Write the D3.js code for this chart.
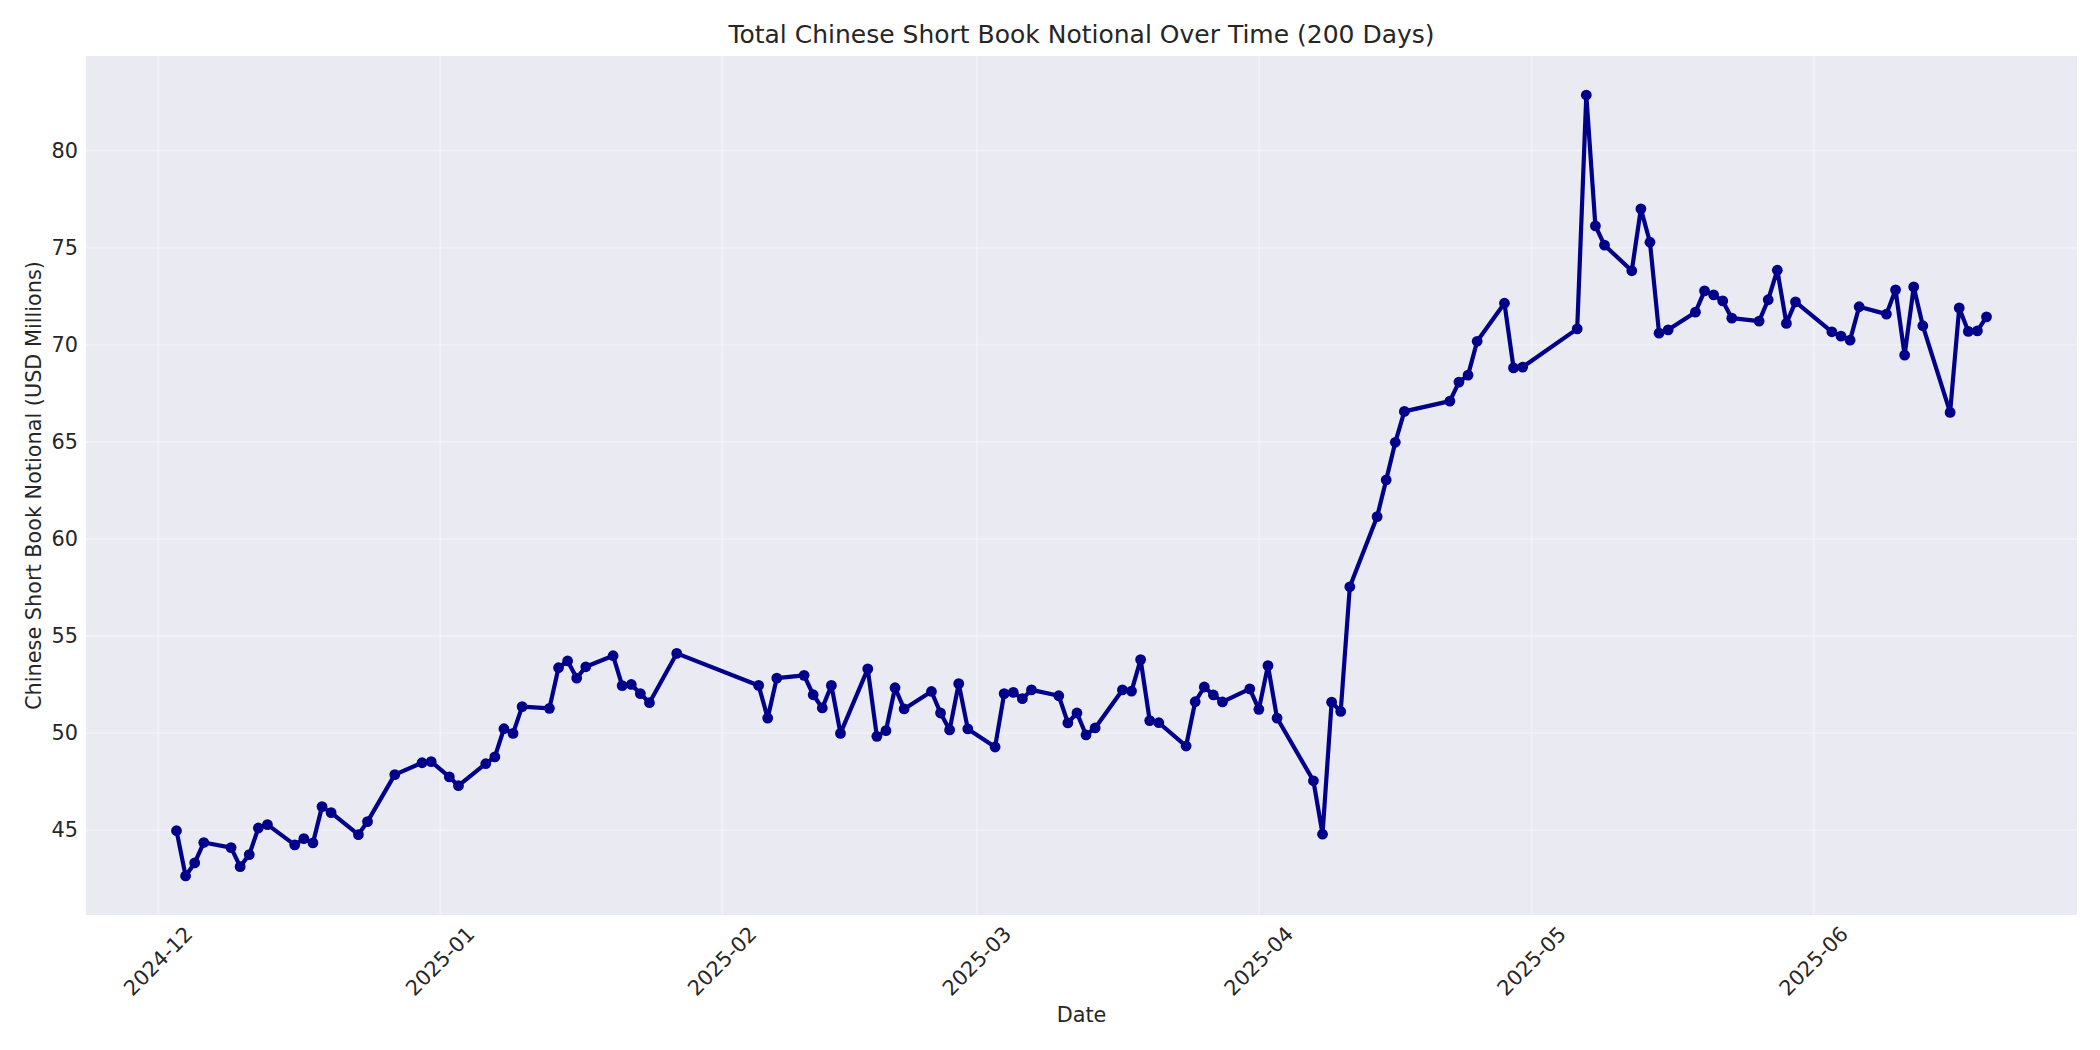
<!DOCTYPE html>
<html>
<head>
<meta charset="utf-8">
<script src="https://cdn.jsdelivr.net/npm/d3@7"></script>
<style>
  body { margin: 0; background: #fff; }
  svg { display: block; font-family: "DejaVu Sans", sans-serif; }
</style>
</head>
<body>
<svg width="2100" height="1050"></svg>
<script>
const dates = [
  "2024-12-03", "2024-12-04", "2024-12-05", "2024-12-06", "2024-12-09", "2024-12-10",
  "2024-12-11", "2024-12-12", "2024-12-13", "2024-12-16", "2024-12-17", "2024-12-18",
  "2024-12-19", "2024-12-20", "2024-12-23", "2024-12-24", "2024-12-27", "2024-12-30",
  "2024-12-31", "2025-01-02", "2025-01-03", "2025-01-06", "2025-01-07", "2025-01-08",
  "2025-01-09", "2025-01-10", "2025-01-13", "2025-01-14", "2025-01-15", "2025-01-16",
  "2025-01-17", "2025-01-20", "2025-01-21", "2025-01-22", "2025-01-23", "2025-01-24",
  "2025-01-27", "2025-02-05", "2025-02-06", "2025-02-07", "2025-02-10", "2025-02-11",
  "2025-02-12", "2025-02-13", "2025-02-14", "2025-02-17", "2025-02-18", "2025-02-19",
  "2025-02-20", "2025-02-21", "2025-02-24", "2025-02-25", "2025-02-26", "2025-02-27",
  "2025-02-28", "2025-03-03", "2025-03-04", "2025-03-05", "2025-03-06", "2025-03-07",
  "2025-03-10", "2025-03-11", "2025-03-12", "2025-03-13", "2025-03-14", "2025-03-17",
  "2025-03-18", "2025-03-19", "2025-03-20", "2025-03-21", "2025-03-24", "2025-03-25",
  "2025-03-26", "2025-03-27", "2025-03-28", "2025-03-31", "2025-04-01", "2025-04-02",
  "2025-04-03", "2025-04-07", "2025-04-08", "2025-04-09", "2025-04-10", "2025-04-11",
  "2025-04-14", "2025-04-15", "2025-04-16", "2025-04-17", "2025-04-22", "2025-04-23",
  "2025-04-24", "2025-04-25", "2025-04-28", "2025-04-29", "2025-04-30", "2025-05-06",
  "2025-05-07", "2025-05-08", "2025-05-09", "2025-05-12", "2025-05-13", "2025-05-14",
  "2025-05-15", "2025-05-16", "2025-05-19", "2025-05-20", "2025-05-21", "2025-05-22",
  "2025-05-23", "2025-05-26", "2025-05-27", "2025-05-28", "2025-05-29", "2025-05-30",
  "2025-06-03", "2025-06-04", "2025-06-05", "2025-06-06", "2025-06-09", "2025-06-10",
  "2025-06-11", "2025-06-12", "2025-06-13", "2025-06-16", "2025-06-17", "2025-06-18",
  "2025-06-19", "2025-06-20"
];

// USD millions
const notional = [
  44.98, 42.65, 43.32, 44.37, 44.11, 43.13,
  43.75, 45.12, 45.29, 44.25, 44.57, 44.35,
  46.22, 45.91, 44.78, 45.45, 47.87, 48.48,
  48.54, 47.75, 47.30, 48.43, 48.78, 50.23,
  49.99, 51.37, 51.28, 53.37, 53.72, 52.84,
  53.42, 53.99, 52.45, 52.51, 52.04, 51.57,
  54.11, 52.46, 50.78, 52.84, 52.98, 51.98,
  51.30, 52.46, 49.99, 53.31, 49.84, 50.13,
  52.34, 51.25, 52.15, 51.04, 50.17, 52.55,
  50.22, 49.29, 52.04, 52.10, 51.78, 52.23,
  51.93, 50.53, 51.04, 49.91, 50.27, 52.23,
  52.17, 53.79, 50.65, 50.54, 49.34, 51.62,
  52.38, 51.97, 51.61, 52.28, 51.23, 53.48,
  50.78, 47.55, 44.80, 51.60, 51.12, 57.54,
  61.15, 63.04, 64.98, 66.57, 67.10, 68.08,
  68.44, 70.18, 72.14, 68.81, 68.85, 70.82,
  82.86, 76.12, 75.13, 73.81, 77.00, 75.28,
  70.60, 70.77, 71.68, 72.78, 72.57, 72.26,
  71.37, 71.22, 72.32, 73.84, 71.10, 72.21,
  70.67, 70.45, 70.24, 71.96, 71.58, 72.83,
  69.47, 72.98, 70.98, 66.52, 71.90, 70.69,
  70.72, 71.44
];

const yTicks = [45, 50, 55, 60, 65, 70, 75, 80];
const monthTicks = ["2024-12", "2025-01", "2025-02", "2025-03", "2025-04", "2025-05", "2025-06"];

const parseDay = d3.timeParse("%Y-%m-%d");
const parseMonth = d3.timeParse("%Y-%m");
const data = dates.map((d, i) => ({ date: parseDay(d), value: notional[i] }));

const margin = { left: 86, right: 2077, top: 56, bottom: 915 };
const svg = d3.select("svg");

// matplotlib-style 5% padding
const xExt = d3.extent(data, (d) => d.date);
const xPad = (xExt[1] - xExt[0]) * 0.05;
const x = d3.scaleTime()
  .domain([new Date(+xExt[0] - xPad), new Date(+xExt[1] + xPad)])
  .range([margin.left, margin.right]);

const yExt = d3.extent(data, (d) => d.value);
const yPad = (yExt[1] - yExt[0]) * 0.05;
const y = d3.scaleLinear()
  .domain([yExt[0] - yPad, yExt[1] + yPad])
  .range([margin.bottom, margin.top]);

svg.append("rect")
  .attr("x", margin.left)
  .attr("y", margin.top)
  .attr("width", margin.right - margin.left)
  .attr("height", margin.bottom - margin.top)
  .attr("fill", "#eaeaf2");

// grid
const tickDates = monthTicks.map(parseMonth);
const grid = svg.append("g").attr("stroke", "#ffffff").attr("stroke-opacity", 0.3).attr("stroke-width", 2);
grid.selectAll("line.gx")
  .data(tickDates)
  .enter()
  .append("line")
  .attr("class", "gx")
  .attr("x1", (d) => x(d)).attr("x2", (d) => x(d))
  .attr("y1", margin.top).attr("y2", margin.bottom);
grid.selectAll("line.gy")
  .data(yTicks)
  .enter()
  .append("line")
  .attr("class", "gy")
  .attr("x1", margin.left).attr("x2", margin.right)
  .attr("y1", (d) => y(d)).attr("y2", (d) => y(d));

// y axis, no domain line or tick marks
const yAxis = svg.append("g")
  .attr("transform", `translate(${margin.left},0)`)
  .call(d3.axisLeft(y).tickValues(yTicks).tickSize(0).tickPadding(8));
yAxis.select(".domain").remove();
yAxis.selectAll("text")
  .attr("font-family", "DejaVu Sans")
  .attr("font-size", 20.8)
  .attr("fill", "#262626");

// x axis labels rotated 45deg, bbox centred on tick
const fmt = d3.timeFormat("%Y-%m");
const xLab = svg.append("g");
xLab.selectAll("g")
  .data(tickDates)
  .enter()
  .append("g")
  .each(function (d) {
    const g = d3.select(this);
    const t = g.append("text")
      .attr("font-size", 20.8)
      .attr("fill", "#262626")
      .attr("text-anchor", "middle")
      .attr("dominant-baseline", "central")
      .attr("transform", "rotate(-45)")
      .text(fmt(d));
    const w = t.node().getComputedTextLength();
    const h = (w + 24) * Math.SQRT1_2;
    g.attr("transform", `translate(${x(d)},${margin.bottom + 7 + h / 2})`);
  });

// line + markers
const line = d3.line()
  .x((d) => x(d.date))
  .y((d) => y(d.value));

svg.append("path")
  .datum(data)
  .attr("d", line)
  .attr("fill", "none")
  .attr("stroke", "#00008b")
  .attr("stroke-width", 4.2)
  .attr("stroke-linejoin", "round");

svg.append("g")
  .selectAll("circle")
  .data(data)
  .enter()
  .append("circle")
  .attr("cx", (d) => x(d.date))
  .attr("cy", (d) => y(d.value))
  .attr("r", 5.4)
  .attr("fill", "#00008b");

// titles
const midX = (margin.left + margin.right) / 2;
svg.append("text")
  .attr("x", midX)
  .attr("y", 43)
  .attr("text-anchor", "middle")
  .attr("font-size", 25)
  .attr("fill", "#262626")
  .text("Total Chinese Short Book Notional Over Time (200 Days)");

svg.append("text")
  .attr("x", midX)
  .attr("y", 1022)
  .attr("text-anchor", "middle")
  .attr("font-size", 20.8)
  .attr("fill", "#262626")
  .text("Date");

svg.append("text")
  .attr("transform", `translate(41,${(margin.top + margin.bottom) / 2}) rotate(-90)`)
  .attr("text-anchor", "middle")
  .attr("font-size", 20.8)
  .attr("fill", "#262626")
  .text("Chinese Short Book Notional (USD Millions)");
</script>
</body>
</html>
